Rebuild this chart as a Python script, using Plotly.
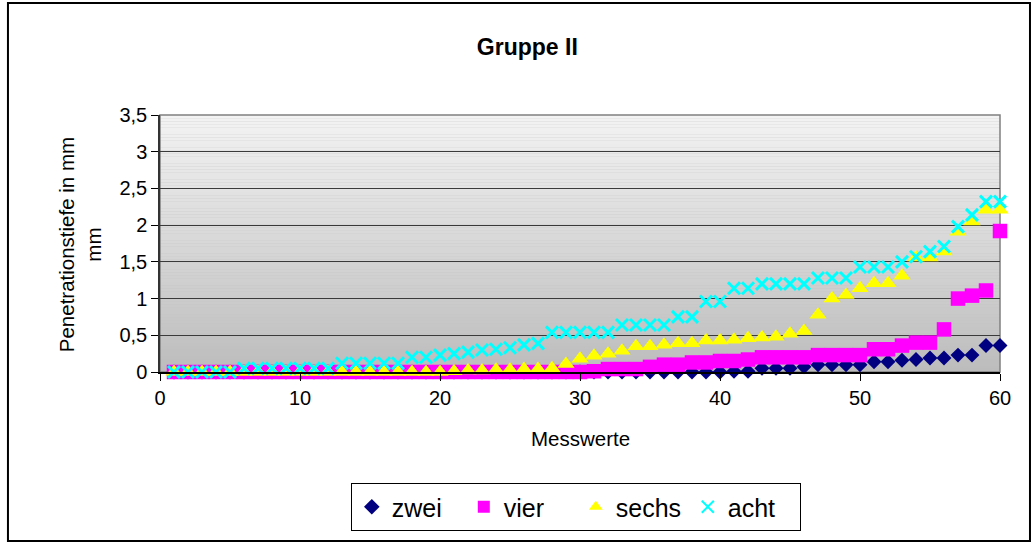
import plotly.graph_objects as go

# Messwerte 1..60, Penetrationstiefe in mm je Serie
messwerte = list(range(1, 61))

zwei = [0.0] * 40 + [0.01, 0.01, 0.05, 0.05, 0.05, 0.07, 0.10, 0.10, 0.10, 0.10,
                     0.14, 0.14, 0.16, 0.17, 0.19, 0.19, 0.23, 0.23, 0.36, 0.36]

vier = [0.0] * 30 + [0.01, 0.04, 0.04, 0.04, 0.07, 0.10, 0.10, 0.13, 0.13, 0.15,
                     0.15, 0.17, 0.20, 0.20, 0.20, 0.20, 0.23, 0.23, 0.23, 0.23,
                     0.31, 0.31, 0.36, 0.40, 0.40, 0.58, 1.00, 1.04, 1.11, 1.92]

sechs = [0.0] * 20 + [0.01, 0.02, 0.02, 0.03, 0.03, 0.04, 0.04, 0.05, 0.11, 0.18,
                      0.22, 0.25, 0.29, 0.35, 0.35, 0.37, 0.39, 0.39, 0.43, 0.43,
                      0.44, 0.46, 0.47, 0.48, 0.52, 0.56, 0.78, 1.00, 1.05, 1.14,
                      1.21, 1.21, 1.31, 1.56, 1.56, 1.64, 1.91, 2.05, 2.21, 2.21]

acht = [0.0] * 5 + [0.05] * 7 + [0.12] * 5 + [0.20, 0.20, 0.23, 0.25, 0.27, 0.30,
                                              0.31, 0.33, 0.37, 0.39,
                                              0.54, 0.54, 0.54, 0.54, 0.54,
                                              0.64, 0.64, 0.64, 0.64, 0.75, 0.75,
                                              0.96, 0.96, 1.14, 1.14,
                                              1.20, 1.20, 1.20, 1.20,
                                              1.28, 1.28, 1.28,
                                              1.43, 1.43, 1.43, 1.50, 1.57, 1.64,
                                              1.71, 1.98, 2.14, 2.32, 2.32]

x_ticks = [0, 10, 20, 30, 40, 50, 60]
y_ticks = [0, 0.5, 1, 1.5, 2, 2.5, 3, 3.5]

FONT = "Liberation Sans, Arial, sans-serif"

series = [
    ("zwei", zwei, dict(symbol="diamond", size=11.5, color="#000080")),
    ("vier", vier, dict(symbol="square", size=14.5, color="#FF00FF")),
    ("sechs", sechs, dict(symbol="triangle-up", size=15, color="#FFFF00")),
    ("acht", acht, dict(symbol="x-thin", size=12, color="#00FFFF",
                        line=dict(color="#00FFFF", width=3))),
]

fig = go.Figure()
for name, values, marker in series:
    fig.add_trace(go.Scatter(
        x=messwerte, y=values, name=name, mode="markers",
        marker=marker, cliponaxis=False,
    ))

# vertical grey gradient behind the plot area
shapes = []
n_bands = 80
top_c, bot_c = 243, 188
for i in range(n_bands):
    t = (i + 0.5) / n_bands
    c = round(top_c + (bot_c - top_c) * t)
    shapes.append(dict(
        type="rect", xref="x domain", yref="y domain",
        x0=0, x1=1, y0=1 - (i + 1) / n_bands, y1=1 - i / n_bands,
        fillcolor=f"rgb({c},{c},{c})", line=dict(width=0), layer="below",
    ))
# plot-area frame
shapes.append(dict(type="rect", xref="x domain", yref="y domain",
                   x0=0, x1=1, y0=0, y1=1,
                   line=dict(color="#808080", width=1.5), layer="below"))
# outer chart border
shapes.append(dict(type="rect", xref="paper", yref="paper",
                   x0=-0.181, x1=1.0357, y0=-0.658, y1=1.436,
                   line=dict(color="black", width=2), layer="above"))

fig.update_layout(
    width=1036, height=544,
    margin=dict(l=160, r=36, t=115, b=172),
    paper_bgcolor="white", plot_bgcolor="#c0c0c0",
    separators=", ",
    font=dict(family=FONT, size=20, color="black"),
    title=dict(text="<b>Gruppe II</b>", x=0.509, xanchor="center",
               y=0.914, yanchor="middle", font=dict(size=23)),
    showlegend=True,
    legend=dict(orientation="h", x=0.495, xanchor="center",
                y=-0.432, yanchor="top",
                bordercolor="black", borderwidth=1, bgcolor="white",
                font=dict(size=25), itemsizing="constant",
                itemwidth=30, entrywidth=67, entrywidthmode="pixels"),
    shapes=shapes,
    annotations=[
        dict(text="Messwerte", xref="paper", yref="paper",
             x=0.5, y=-0.257, xanchor="center", yanchor="middle",
             showarrow=False, font=dict(size=20.5)),
        dict(text="Penetrationstiefe in mm<br>mm", xref="paper", yref="paper",
             x=-0.095, y=0.494, xanchor="center", yanchor="middle",
             textangle=-90, showarrow=False, font=dict(size=20.5)),
    ],
)

fig.update_xaxes(
    range=[0, 60], tickvals=x_ticks, ticks="outside", ticklen=7,
    tickcolor="black", showline=True, linecolor="black", linewidth=1.5,
    showgrid=False, zeroline=False, fixedrange=True,
)
fig.update_yaxes(
    range=[0, 3.5], tickvals=y_ticks, ticks="outside", ticklen=7,
    tickcolor="black", showline=True, linecolor="#333333", linewidth=1.5,
    showgrid=True, gridcolor="#3a3a3a", gridwidth=1, zeroline=False,
    fixedrange=True,
)

fig.write_html("out.html")
